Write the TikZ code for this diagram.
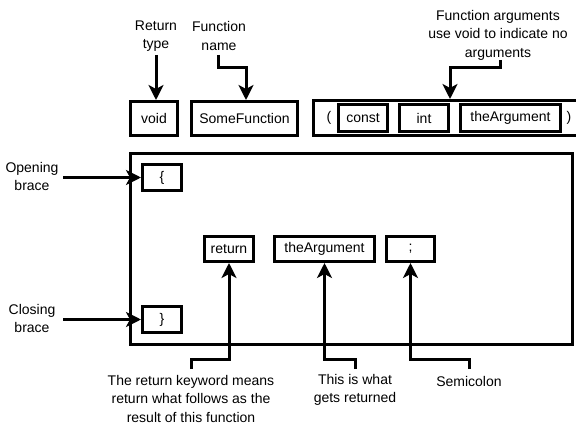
\documentclass[tikz,border=0pt]{standalone}
\usepackage{fontspec}
\setmainfont{Liberation Sans}
\usetikzlibrary{arrows.meta}
\begin{document}
\begin{tikzpicture}[x=1pt,y=-1pt,
  every node/.style={font=\fontsize{14}{18.5}\selectfont, inner sep=0pt},
  box/.style={draw, line width=3pt, rectangle, line join=miter},
  note/.style={align=center},
  arr/.style={line width=3pt, -{Stealth[length=15pt,width=15pt,inset=4pt]}}
]
\useasboundingbox (0,0) rectangle (576,425);

% declaration line
\node[box, minimum width=47pt, minimum height=34pt] (void) at (154,118.5) {void};
\node[box, minimum width=106pt, minimum height=34pt] (sf) at (244.5,118.5) {SomeFunction};
\node[box, minimum width=264pt, minimum height=35pt] (args) at (445.5,118) {};
\node (lpar) at (329,118) {(};
\node[box, minimum width=49pt, minimum height=27pt] (const) at (363,118) {const};
\node[box, minimum width=49pt, minimum height=27pt] (int) at (424,118) {int};
\node[box, minimum width=100pt, minimum height=27pt] (arg) at (510.5,118) {theArgument};
\node (rpar) at (569,118) {)};

% function body
\node[box, minimum width=442pt, minimum height=191pt] (body) at (351.5,249) {};
\node[box, minimum width=39pt, minimum height=26pt] (open) at (162,177.5) {\{};
\node[box, minimum width=39pt, minimum height=26pt] (close) at (162,319.5) {\}};
\node[box, minimum width=49pt, minimum height=25pt] (ret) at (229,249) {return};
\node[box, minimum width=100pt, minimum height=25pt] (retarg) at (324.5,249) {theArgument};
\node[box, minimum width=48pt, minimum height=25pt] (semi) at (410.5,249) {;};

% annotations
\node[note] (lrt) at (156,36) {Return\\type};
\node[note] (lfn) at (219,36) {Function\\name};
\node[note] (lfa) at (498,35) {Function arguments\\use void to indicate no\\arguments};
\node[note] (lob) at (32,176.5) {Opening\\brace};
\node[note] (lcb) at (32,318.5) {Closing\\brace};
\node[note] (lrk) at (191,398.5) {The return keyword means\\return what follows as the\\result of this function};
\node[note] (lwr) at (355,390) {This is what\\gets returned};
\node[note] (lsc) at (469,381) {Semicolon};

% connector start points
\coordinate (srt) at (156,55);
\coordinate (sfn) at (218,55);
\coordinate (sfa) at (500,60);
\coordinate (sob) at (63,177.5);
\coordinate (scb) at (63,319.5);
\coordinate (srk) at (191,369);
\coordinate (swr) at (355,369);
\coordinate (ssc) at (469,369);

\draw[arr] (srt) -- (srt |- void.north);
\draw[arr] (sfn) |- (246,68) -- (246,0 |- sf.north);
\draw[arr] (sfa) |- (450,68) -- (450,0 |- args.north);
\draw[arr] (sob) -- (open.west);
\draw[arr] (scb) -- (close.west);
\draw[arr] (srk) |- (ret.south |- 0,359) -- (ret.south);
\draw[arr] (swr) |- (retarg.south |- 0,359) -- (retarg.south);
\draw[arr] (ssc) |- (semi.south |- 0,359) -- (semi.south);
\end{tikzpicture}
\end{document}
